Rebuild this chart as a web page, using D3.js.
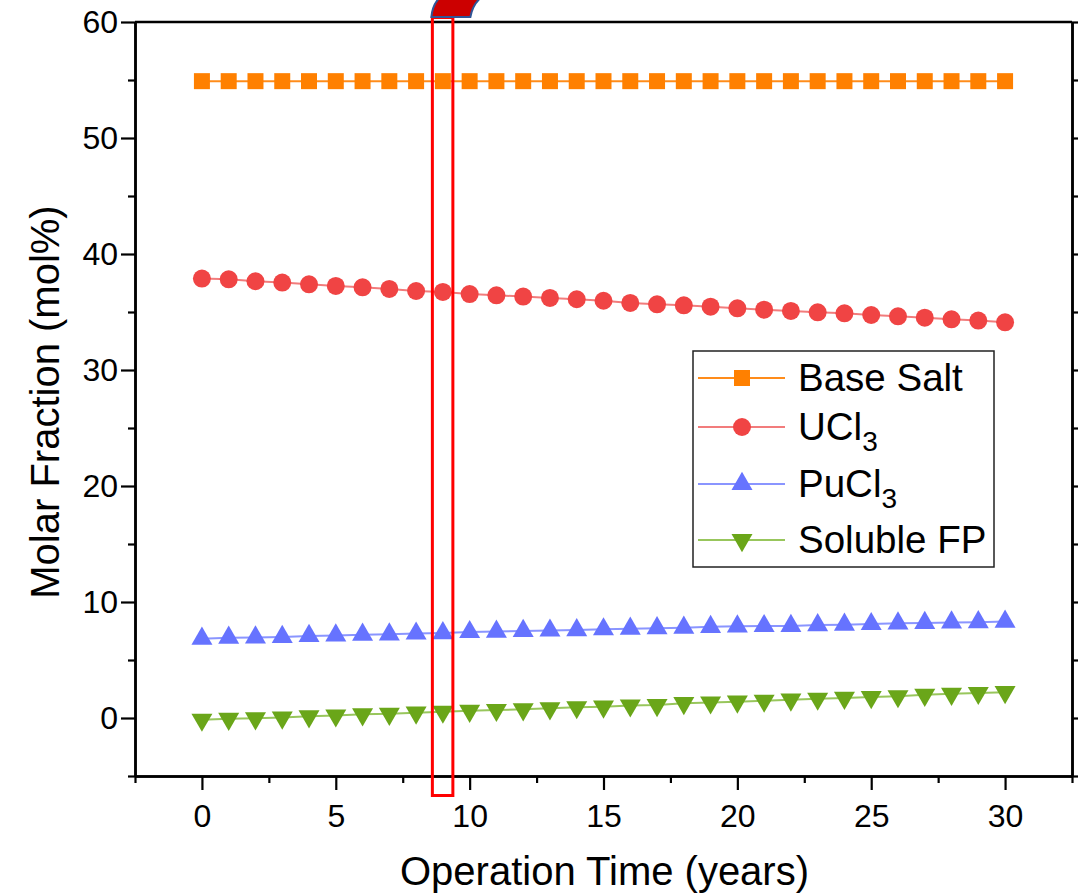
<!DOCTYPE html>
<html>
<head>
<meta charset="utf-8">
<script src="https://cdn.jsdelivr.net/npm/d3@7"></script>
<style>
  html, body { margin: 0; padding: 0; background: #fff; }
  svg { display: block; font-family: Arial, "Liberation Sans", sans-serif; }
</style>
</head>
<body>
<svg id="chart" width="1078" height="896"></svg>
<script>
// Operation time (years)
const years = [0,1,2,3,4,5,6,7,8,9,10,11,12,13,14,15,16,17,18,19,20,21,22,23,24,25,26,27,28,29,30];

// Molar fractions (mol%)
const baseSalt = [54.9,54.9,54.9,54.9,54.9,54.9,54.9,54.9,54.9,54.9,54.9,54.9,54.9,54.9,54.9,54.9,
                  54.9,54.9,54.9,54.9,54.9,54.9,54.9,54.9,54.9,54.9,54.9,54.9,54.9,54.9,54.9];
const ucl3 = [37.88,37.82,37.65,37.54,37.39,37.25,37.13,36.99,36.81,36.73,36.55,36.44,36.33,36.21,36.10,35.97,
              35.78,35.66,35.58,35.46,35.32,35.20,35.09,34.97,34.89,34.74,34.63,34.51,34.37,34.26,34.11];
const pucl3 = [6.84,6.92,6.95,6.99,7.07,7.12,7.18,7.21,7.28,7.32,7.41,7.45,7.50,7.54,7.58,7.65,
               7.70,7.74,7.79,7.86,7.90,7.93,7.94,8.01,8.04,8.10,8.16,8.19,8.24,8.26,8.31];
const solubleFP = [-0.15,-0.07,-0.03,0.04,0.15,0.22,0.32,0.36,0.46,0.54,0.62,0.69,0.75,0.84,0.93,0.98,
                   1.08,1.12,1.28,1.34,1.41,1.49,1.58,1.66,1.73,1.80,1.88,2.00,2.09,2.16,2.23];

// Axis ticks
const xMajorTicks = [0,5,10,15,20,25,30];
const xMinorTicks = [-2.5,2.5,7.5,12.5,17.5,22.5,27.5,32.5];
const yMajorTicks = [0,10,20,30,40,50,60];
const yMinorTicks = [-5,5,15,25,35,45,55];

// Highlighted year
const highlightYear = 9;

const seriesList = [
  { name: "Base Salt", sub: null, values: baseSalt, symbol: d3.symbolSquare, size: 256, fill: "#FF8000", line: "#FF8C1A" },
  { name: "UCl", sub: "3", values: ucl3, symbol: d3.symbolCircle, size: 254, fill: "#F04444", line: "#F27C7C" },
  { name: "PuCl", sub: "3", values: pucl3, symbol: d3.symbolTriangle, size: 191, fill: "#6673FF", line: "#8A95FF" },
  { name: "Soluble FP", sub: null, values: solubleFP, symbol: d3.symbolTriangle, size: 191, fill: "#6AA619", line: "#98C65C", flip: true }
];

const svg = d3.select("#chart");
const plotLeft = 135, plotRight = 1072, plotTop = 22, plotBottom = 776;

const x = d3.scaleLinear().domain([-2.5, 32.5]).range([plotLeft, plotRight]);
const y = d3.scaleLinear().domain([-5, 60]).range([plotBottom, plotTop]);

// Series lines
const lineGen = d3.line().x((d, i) => x(years[i])).y(d => y(d));
const plot = svg.append("g");
seriesList.forEach(s => {
  plot.append("path")
    .attr("d", lineGen(s.values))
    .attr("fill", "none")
    .attr("stroke", s.line)
    .attr("stroke-width", 2);
});

// Markers
seriesList.forEach(s => {
  const sym = d3.symbol().type(s.symbol).size(s.size);
  plot.selectAll(null)
    .data(s.values)
    .join("path")
    .attr("d", sym)
    .attr("transform", (d, i) => `translate(${x(years[i])},${y(d)})${s.flip ? " rotate(180)" : ""}`)
    .attr("fill", s.fill);
});

// Axes
function styleAxis(g) {
  g.selectAll("path.domain").attr("stroke", "#000").attr("stroke-width", 2.5);
  g.selectAll(".tick line").attr("stroke", "#000").attr("stroke-width", 2.2);
  g.selectAll(".tick text").attr("fill", "#000").attr("font-size", 32).attr("font-family", "Arial, 'Liberation Sans', sans-serif");
}

// bottom
svg.append("g").attr("transform", `translate(0,${plotBottom})`)
  .call(d3.axisBottom(x).tickValues(xMajorTicks).tickSize(14).tickSizeOuter(0).tickPadding(14).tickFormat(d3.format("d")))
  .call(styleAxis);
svg.append("g").attr("transform", `translate(0,${plotBottom})`)
  .call(d3.axisBottom(x).tickValues(xMinorTicks).tickSize(7).tickSizeOuter(0).tickFormat(""))
  .call(styleAxis);

// left
svg.append("g").attr("transform", `translate(${plotLeft},0)`)
  .call(d3.axisLeft(y).tickValues(yMajorTicks).tickSize(14).tickSizeOuter(0).tickPadding(3).tickFormat(d3.format("d")))
  .call(styleAxis);
svg.append("g").attr("transform", `translate(${plotLeft},0)`)
  .call(d3.axisLeft(y).tickValues(yMinorTicks).tickSize(7).tickSizeOuter(0).tickFormat(""))
  .call(styleAxis);

// right (ticks only)
svg.append("g").attr("transform", `translate(${plotRight},0)`)
  .call(d3.axisRight(y).tickValues(yMajorTicks).tickSize(14).tickSizeOuter(0).tickFormat(""))
  .call(styleAxis);
svg.append("g").attr("transform", `translate(${plotRight},0)`)
  .call(d3.axisRight(y).tickValues(yMinorTicks).tickSize(7).tickSizeOuter(0).tickFormat(""))
  .call(styleAxis);

// top border
svg.append("line")
  .attr("x1", plotLeft).attr("x2", plotRight).attr("y1", plotTop).attr("y2", plotTop)
  .attr("stroke", "#000").attr("stroke-width", 2.5);

// Axis titles
svg.append("text")
  .attr("x", (plotLeft + plotRight) / 2 + 1).attr("y", 885)
  .attr("text-anchor", "middle")
  .attr("font-size", 40)
  .attr("fill", "#000")
  .text("Operation Time (years)");

svg.append("text")
  .attr("transform", `translate(59,${(plotTop + plotBottom) / 2 + 3}) rotate(-90)`)
  .attr("text-anchor", "middle")
  .attr("font-size", 40)
  .attr("fill", "#000")
  .text("Molar Fraction (mol%)");

// Legend
const legend = svg.append("g");
legend.append("rect")
  .attr("x", 693).attr("y", 351).attr("width", 301).attr("height", 216)
  .attr("fill", "#fff").attr("stroke", "#222").attr("stroke-width", 1.5);

const legendRows = [378, 427, 484, 540];
seriesList.forEach((s, i) => {
  const ly = legendRows[i];
  legend.append("line")
    .attr("x1", 698).attr("x2", 785).attr("y1", ly).attr("y2", ly)
    .attr("stroke", s.line).attr("stroke-width", 2);
  legend.append("path")
    .attr("d", d3.symbol().type(s.symbol).size(s.size)())
    .attr("transform", `translate(742,${ly})${s.flip ? " rotate(180)" : ""}`)
    .attr("fill", s.fill);
  const t = legend.append("text")
    .attr("x", 798).attr("y", ly + 13)
    .attr("font-size", 38.5)
    .attr("fill", "#000");
  t.append("tspan").text(s.name);
  if (s.sub) {
    t.append("tspan").attr("dy", 11).attr("font-size", 28).text(s.sub);
  }
});

// Highlight around the selected year
const hx0 = x(highlightYear) - 10.5, hx1 = x(highlightYear) + 10;
svg.append("rect")
  .attr("x", hx0).attr("y", 17.5)
  .attr("width", hx1 - hx0).attr("height", 778)
  .attr("fill", "none").attr("stroke", "#FF0000").attr("stroke-width", 3);

// Curved pointer above the highlight
svg.append("path")
  .attr("d", `M${hx0 - 1},17 Q${hx0},6 ${hx0 + 6},-1 L${hx0 + 47},-1 Q${hx0 + 40},6 ${hx0 + 38},17 Z`)
  .attr("fill", "#CC0000")
  .attr("stroke", "#2F5597")
  .attr("stroke-width", 2);
</script>
</body>
</html>
